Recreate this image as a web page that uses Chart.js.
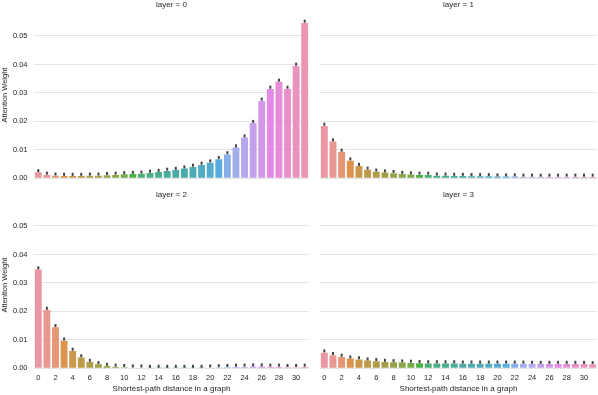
<!DOCTYPE html>
<html>
<head>
<meta charset="utf-8">
<script src="https://cdn.jsdelivr.net/npm/chart.js@4.4.1/dist/chart.umd.min.js"></script>
<style>
  html, body { margin: 0; padding: 0; background: #fff; }
  #wrap { position: relative; width: 598px; height: 395px; }
  canvas { position: absolute; }
</style>
</head>
<body>
<div id="wrap">
  <canvas id="c0" style="left:0;top:0" width="310" height="185"></canvas>
  <canvas id="c1" style="left:310px;top:0" width="288" height="185"></canvas>
  <canvas id="c2" style="left:0;top:185px" width="310" height="210"></canvas>
  <canvas id="c3" style="left:310px;top:185px" width="288" height="210"></canvas>
</div>
<script>
// shortest-path distances 0..31
const distances = Array.from({ length: 32 }, (_, i) => String(i));

// mean attention weight per distance, one array per layer
const layer0 = [0.0021, 0.0012, 0.0009, 0.0008, 0.0008, 0.0008, 0.0009, 0.0009,
                0.0011, 0.0012, 0.0014, 0.0015, 0.0016, 0.0019, 0.0022, 0.0026,
                0.0029, 0.0034, 0.0040, 0.0047, 0.0055, 0.0067, 0.0084, 0.0108,
                0.0143, 0.0194, 0.0272, 0.0314, 0.0339, 0.0314, 0.0395, 0.0546];
const layer1 = [0.0184, 0.0129, 0.0093, 0.0062, 0.0043, 0.0030, 0.0023, 0.0020,
                0.0018, 0.0015, 0.0013, 0.0012, 0.0012, 0.0009, 0.0009, 0.0008,
                0.0008, 0.0007, 0.0007, 0.0007, 0.0006, 0.0006, 0.0006, 0.0005,
                0.0005, 0.0005, 0.0005, 0.0005, 0.0005, 0.0005, 0.0005, 0.0005];
const layer2 = [0.0347, 0.0205, 0.0144, 0.0097, 0.0061, 0.0038, 0.0022, 0.0014,
                0.0008, 0.0005, 0.0004, 0.0002, 0.0002, 0.0001, 0.0001, 0.0001,
                0.0001, 0.0001, 0.0001, 0.0001, 0.0002, 0.0003, 0.0004, 0.0005,
                0.0005, 0.0006, 0.0006, 0.0005, 0.0005, 0.0004, 0.0004, 0.0005];
const layer3 = [0.0055, 0.0046, 0.0040, 0.0034, 0.0031, 0.0027, 0.0025, 0.0022,
                0.0021, 0.0020, 0.0019, 0.0018, 0.0017, 0.0017, 0.0017, 0.0017,
                0.0016, 0.0016, 0.0016, 0.0016, 0.0016, 0.0016, 0.0016, 0.0016,
                0.0015, 0.0015, 0.0015, 0.0015, 0.0015, 0.0015, 0.0015, 0.0014];

const yTicks = [0, 0.01, 0.02, 0.03, 0.04, 0.05];
const yMax = 0.0585;

// --- husl palette, same maths as seaborn's husl_palette + desaturate ---
const M = [[3.2406, -1.5372, -0.4986], [-0.9689, 1.8758, 0.0415], [0.0557, -0.2040, 1.0570]];
const refU = 0.19784, refV = 0.46834, KAPPA = 903.2963, EPS = 0.0088564;

function maxChroma(L, H) {
    const hrad = H / 360 * 2 * Math.PI;
    const sinH = Math.sin(hrad), cosH = Math.cos(hrad);
    const sub1 = Math.pow(L + 16, 3) / 1560896;
    const sub2 = sub1 > EPS ? sub1 : L / KAPPA;
    let result = Infinity;
    for (const [m1, m2, m3] of M) {
        const top = (0.99915 * m1 + 1.05122 * m2 + 1.14460 * m3) * sub2;
        const rbottom = 0.86330 * m3 - 0.17266 * m2;
        const lbottom = 0.12949 * m3 - 0.38848 * m1;
        const bottom = (rbottom * sinH + lbottom * cosH) * sub2;
        for (const t of [0, 1]) {
            const C = L * (top - 1.05122 * t) / (bottom + 0.17266 * sinH * t);
            if (C > 0 && C < result) result = C;
        }
    }
    return result;
}

function huslToRgb(h, s, l) {
    const c = maxChroma(l, h) / 100 * s;
    const hrad = h / 360 * 2 * Math.PI;
    const U = c * Math.cos(hrad), V = c * Math.sin(hrad);
    const t = (l + 16) / 116;
    const varY = Math.pow(t, 3) > EPS ? Math.pow(t, 3) : (116 * t - 16) / KAPPA;
    const varU = U / (13 * l) + refU;
    const varV = V / (13 * l) + refV;
    const Y = varY;
    const X = -(9 * Y * varU) / ((varU - 4) * varV - varU * varV);
    const Z = (9 * Y - 15 * varV * Y - varV * X) / (3 * varV);
    return M.map(r => {
        const v = r[0] * X + r[1] * Y + r[2] * Z;
        const g = v <= 0.0031308 ? 12.92 * v : 1.055 * Math.pow(v, 1 / 2.4) - 0.055;
        return Math.min(1, Math.max(0, g));
    });
}

function desaturate([r, g, b], prop) {
    const max = Math.max(r, g, b), min = Math.min(r, g, b);
    const l = (max + min) / 2;
    let h = 0, s = 0;
    if (max !== min) {
        const d = max - min;
        s = l <= 0.5 ? d / (max + min) : d / (2 - max - min);
        if (max === r) h = ((g - b) / d) / 6;
        else if (max === g) h = (2 + (b - r) / d) / 6;
        else h = (4 + (r - g) / d) / 6;
        h = ((h % 1) + 1) % 1;
    }
    s *= prop;
    const q = l <= 0.5 ? l * (1 + s) : l + s - l * s;
    const p = 2 * l - q;
    const hue = (m1, m2, hh) => {
        hh = ((hh % 1) + 1) % 1;
        if (hh < 1 / 6) return m1 + (m2 - m1) * hh * 6;
        if (hh < 0.5) return m2;
        if (hh < 2 / 3) return m1 + (m2 - m1) * (2 / 3 - hh) * 6;
        return m1;
    };
    if (s === 0) return [l, l, l];
    return [hue(p, q, h + 1 / 3), hue(p, q, h), hue(p, q, h - 1 / 3)];
}

function huslPalette(n) {
    const out = [];
    for (let i = 0; i < n; i++) {
        const h = ((i / n + 0.01) % 1) * 359;
        const rgb = desaturate(huslToRgb(h, 0.9 * 99, 0.7 * 99), 0.75);
        out.push('rgb(' + rgb.map(v => Math.round(v * 255)).join(',') + ')');
    }
    return out;
}

const barColors = huslPalette(distances.length);

// little error-bar caps on top of each bar
const errMarks = {
    id: 'errMarks',
    afterDatasetsDraw(chart) {
        const ctx = chart.ctx;
        ctx.save();
        ctx.strokeStyle = '#424242';
        ctx.lineWidth = 2;
        chart.getDatasetMeta(0).data.forEach(bar => {
            ctx.beginPath();
            ctx.moveTo(bar.x, bar.y - 0.2);
            ctx.lineTo(bar.x, bar.y - 3.2);
            ctx.stroke();
        });
        ctx.restore();
    }
};

const FONT = 'Liberation Sans, Arial, sans-serif';
const TEXT = '#262626';

function makeFacet(id, layer, values, showY, showX) {
    const ctx = document.getElementById(id).getContext('2d');
    return new Chart(ctx, {
        type: 'bar',
        data: {
            labels: distances,
            datasets: [{
                data: values,
                backgroundColor: barColors,
                borderWidth: 0,
                barPercentage: 0.8,
                categoryPercentage: 1.0
            }]
        },
        plugins: [errMarks],
        options: {
            responsive: false,
            animation: false,
            events: [],
            layout: { padding: { top: 0, left: 0, right: 1, bottom: showX ? 0 : 6.7 } },
            plugins: {
                legend: { display: false },
                tooltip: { enabled: false },
                title: {
                    display: true,
                    text: 'layer = ' + layer,
                    fullSize: false,
                    color: TEXT,
                    font: { family: FONT, size: 8, weight: 'normal' },
                    padding: showX ? { top: 5.2, bottom: 2 } : { top: 0, bottom: 2.2 }
                }
            },
            scales: {
                x: {
                    display: showX,
                    offset: true,
                    grid: { display: false, drawTicks: false },
                    border: { display: false },
                    ticks: {
                        autoSkip: false,
                        maxRotation: 0,
                        minRotation: 0,
                        padding: 5,
                        color: TEXT,
                        font: { family: FONT, size: 7.5 },
                        callback: function (v, i) { return i % 2 === 0 ? this.getLabelForValue(v) : ''; }
                    },
                    title: {
                        display: true,
                        text: 'Shortest-path distance in a graph',
                        color: TEXT,
                        font: { family: FONT, size: 8 },
                        padding: { top: 0, bottom: 1.9 }
                    },
                    afterFit(scale) {
                        if (!showX) return;
                        scale.height = 26.7;
                        scale.paddingLeft = 0;
                        scale.paddingRight = 0;
                    }
                },
                y: {
                    min: 0,
                    max: yMax,
                    grid: { color: '#e4e4e4', lineWidth: 1, drawTicks: false },
                    border: { display: false },
                    afterBuildTicks(scale) {
                        scale.ticks = yTicks.map(v => ({ value: v }));
                    },
                    ticks: {
                        display: showY,
                        padding: 6.5,
                        color: TEXT,
                        font: { family: FONT, size: 7.5 },
                        callback: v => v.toFixed(2)
                    },
                    title: {
                        display: showY,
                        text: 'Attention Weight',
                        color: TEXT,
                        font: { family: FONT, size: 7.5 },
                        padding: { top: 0.5, bottom: 0 }
                    },
                    afterFit(scale) {
                        scale.width = showY ? 34 : 10;
                        scale.paddingTop = 0;
                        scale.paddingBottom = 0;
                    }
                }
            }
        }
    });
}

makeFacet('c0', 0, layer0, true, false);
makeFacet('c1', 1, layer1, false, false);
makeFacet('c2', 2, layer2, true, true);
makeFacet('c3', 3, layer3, false, true);
</script>
</body>
</html>
